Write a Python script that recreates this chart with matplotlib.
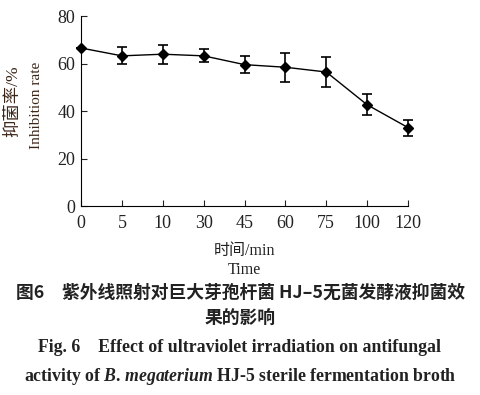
import matplotlib
matplotlib.use("Agg")
import matplotlib.pyplot as plt

plt.rcParams['font.family'] = ['Liberation Serif', 'Noto Sans CJK SC']
plt.rcParams['mathtext.fontset'] = 'custom'
plt.rcParams['mathtext.it'] = 'Liberation Serif:italic:bold'
plt.rcParams['mathtext.rm'] = 'Liberation Serif:bold'

time_labels = ['0', '5', '10', '30', '45', '60', '75', '100', '120']
inhibition = [66.6, 63.3, 64.0, 63.3, 59.6, 58.5, 56.5, 42.7, 33.1]
errors = [0.0, 3.6, 4.0, 2.7, 3.5, 6.0, 6.2, 4.4, 3.4]

fig = plt.figure(figsize=(4.8, 3.95), dpi=100)
ax = fig.add_axes([0.169, 0.478, 0.681, 0.481])

x = list(range(len(time_labels)))
ax.errorbar(x, inhibition, yerr=errors, color='black', marker='D', markersize=5,
            linewidth=1, elinewidth=1.2, capsize=3.5, capthick=1.2, clip_on=False, zorder=3)

ax.set_xlim(0, len(time_labels) - 1)
ax.set_ylim(0, 80)
ax.set_yticks([0, 20, 40, 60, 80])
ax.set_xticks(x)
ax.set_xticklabels(time_labels)
ax.spines['top'].set_visible(False)
ax.spines['right'].set_visible(False)
ax.tick_params(direction='in', length=4, labelsize=13, colors='#222222')
ax.tick_params(axis='x', pad=6)
ax.tick_params(axis='y', pad=4)

ax.set_xlabel('时间/min\nTime', fontsize=11.5, color='#222222', linespacing=1.3, labelpad=8)

# y label: two lines, Chinese and English
fig.text(0.028, 0.745, '抑菌率/%', rotation=90, ha='center', va='center',
         fontsize=12.5, color='#3b2418')
fig.text(0.075, 0.732, 'Inhibition rate', rotation=90, ha='center', va='center',
         fontsize=11, color='#3b2418')

cn = ['Noto Sans CJK SC', 'Liberation Serif']
fig.text(0.5, 0.258, '图6　紫外线照射对巨大芽孢杆菌 HJ–5无菌发酵液抑菌效', ha='center', va='center',
         fontsize=12.8, fontweight='bold', family=cn, color='#222222')
fig.text(0.5, 0.192, '果的影响', ha='center', va='center',
         fontsize=12.8, fontweight='bold', family=cn, color='#222222')
fig.text(0.5, 0.121, 'Fig. 6    Effect of ultraviolet irradiation on antifungal', ha='center', va='center',
         fontsize=12.8, fontweight='bold', color='#222222')
fig.text(0.5, 0.048, r'activity of $B$. $megaterium$ HJ-5 sterile fermentation broth', ha='center', va='center',
         fontsize=12.8, fontweight='bold', color='#222222')

fig.savefig('out.png', dpi=100)
